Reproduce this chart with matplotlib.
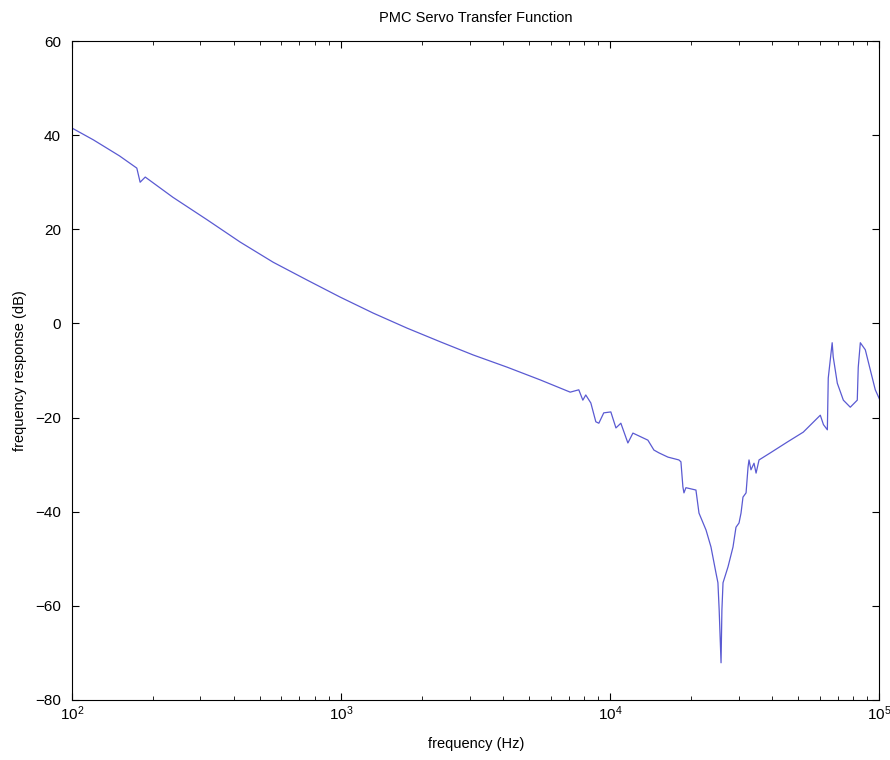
import numpy as np
import matplotlib.pyplot as plt
from matplotlib.ticker import LogLocator, NullFormatter

plt.rcParams['font.family'] = ['Liberation Sans', 'DejaVu Sans']

# Servo transfer function (frequency in Hz, response in dB)
freq = [100, 120, 150, 174, 179, 187, 237, 318, 421, 559, 748, 991, 1315, 1758,
        2335, 3095, 4141, 5495, 7100, 7640, 7910, 8110, 8470, 8840, 9070, 9460,
        10050, 10500, 10950, 11630, 12140, 13000, 13800, 14530, 15170, 16380,
        17990, 18310, 18620, 18790, 19110, 20820, 21370, 22700, 23680, 24710,
        25130, 25400, 25810, 26000, 26250, 27400, 28590, 29330, 30100, 30620,
        31140, 31970, 32520, 32790, 33340, 34220, 34830, 35730, 39350, 45500,
        52150, 60350, 62000, 64100, 64600, 66800, 67400, 69800, 73500, 78000,
        82800, 83500, 85000, 88700, 92600, 96600, 100000]
resp = [41.5, 39.0, 35.6, 33.0, 30.0, 31.1, 26.8, 22.0, 17.3, 13.0, 9.2, 5.6,
        2.2, -1.0, -3.9, -6.7, -9.3, -12.0, -14.6, -14.1, -16.3, -15.2, -16.9,
        -20.9, -21.2, -19.0, -18.8, -22.2, -21.2, -25.4, -23.3, -24.1, -24.8,
        -26.9, -27.5, -28.4, -29.0, -29.4, -34.7, -36.0, -34.9, -35.4, -40.3,
        -43.9, -47.5, -53.0, -55.1, -60.9, -72.1, -60.9, -55.1, -51.7, -47.5,
        -43.3, -42.4, -40.3, -36.9, -36.0, -30.5, -29.0, -31.1, -29.7, -31.8,
        -29.0, -27.5, -25.2, -23.1, -19.5, -21.5, -22.6, -11.6, -4.1, -7.1,
        -12.7, -16.3, -17.8, -16.3, -9.3, -4.1, -5.6, -9.9, -14.1, -16.0]

yticks = [-80, -60, -40, -20, 0, 20, 40, 60]

fig = plt.figure(figsize=(8.9, 7.6), dpi=100)
ax = fig.add_axes([0.081, 0.079, 0.907, 0.867])

ax.semilogx(freq, resp, color='#5a5ad2', linewidth=0.9)

ax.set_xlim(1e2, 1e5)
ax.set_ylim(-80, 60)
ax.set_yticks(yticks)
ax.xaxis.set_minor_locator(LogLocator(base=10, subs=np.arange(2, 10)))
ax.xaxis.set_minor_formatter(NullFormatter())

ax.tick_params(which='both', direction='in', top=True, right=True, labelsize=11)
ax.tick_params(which='major', length=5)
ax.tick_params(axis='y', pad=8)
ax.tick_params(which='minor', length=3)
for s in ax.spines.values():
    s.set_linewidth(0.8)

ax.set_title('PMC Servo Transfer Function', fontsize=10.5, pad=14)
ax.set_xlabel('frequency (Hz)', fontsize=10.5, labelpad=10)
ax.set_ylabel('frequency response (dB)', fontsize=10.5, labelpad=6)

plt.savefig('out.png', dpi=100)
